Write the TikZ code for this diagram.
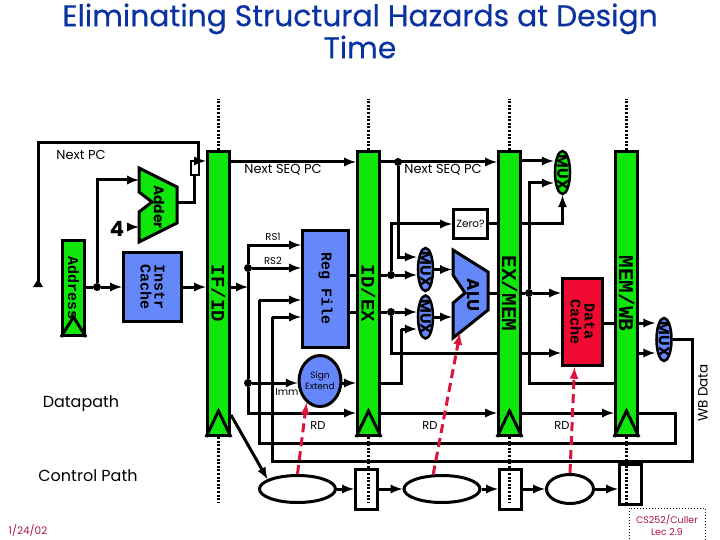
\documentclass[tikz,border=0pt]{standalone}
\usepackage{fontspec}
\usepackage{graphicx}
\usepackage{tikz}
\usetikzlibrary{shapes.geometric}
\setmainfont{Poppins}
\newfontfamily\slabfont{Liberation Mono}
\newfontfamily\titlefont[FakeBold=0.5]{Poppins}
\newcommand{\muxtext}{\rotatebox{-90}{\makebox[0pt]{MUX}}}
\definecolor{regGreen}{RGB}{15,230,10}
\definecolor{unitBlue}{RGB}{100,135,250}
\definecolor{cacheRed}{RGB}{240,10,50}
\definecolor{ctlRed}{RGB}{220,20,60}
\definecolor{titleBlue}{RGB}{10,50,160}
\definecolor{footRed}{RGB}{170,20,70}

\begin{document}
\begin{tikzpicture}[x=1pt,y=-1pt,
	every node/.style={font=\fontsize{13}{15}\selectfont, inner sep=0pt},
	pipereg/.style={draw, line width=3pt, fill=regGreen, minimum width=22pt, minimum height=284pt, font=\slabfont\bfseries\fontsize{20}{20}\selectfont},
	unit/.style={draw, line width=3pt, fill=unitBlue, align=center, font=\slabfont\bfseries\fontsize{15}{15}\selectfont},
	muxnode/.style={ellipse, draw, line width=2.5pt, fill=unitBlue, minimum width=15pt, minimum height=43pt, font=\bfseries\fontsize{15}{15}\selectfont},
	ctlnode/.style={ellipse, draw, line width=3pt, fill=white},
	latchnode/.style={draw, line width=3pt, fill=white, minimum width=22pt, minimum height=40pt},
	jdot/.style={circle, fill=black, minimum size=8pt},
	wire/.style={line width=3pt},
	arw/.style={line width=3pt, -latex},
	clk/.style={line width=3pt, dash pattern=on 2pt off 1.6pt},
	clkedge/.style={line width=3pt, line join=miter},
	ctl/.style={line width=3pt, ctlRed, dash pattern=on 9pt off 5pt, -latex},
	small/.style={font=\fontsize{10}{12}\selectfont},
	big/.style={font=\fontsize{16}{18}\selectfont}]
	\useasboundingbox (0,0) rectangle (720,540);

	\node[font=\titlefont\fontsize{29.8}{32}\selectfont, text=titleBlue, align=center] (title) at (360,31) {Eliminating Structural Hazards at Design\\Time};

	% pipeline registers
	\node[pipereg, font=\slabfont\bfseries\fontsize{19}{20}\selectfont] (ifid) at (218.5,293.5) {\rotatebox{-90}{IF/ID}};
	\node[pipereg, font=\slabfont\bfseries\fontsize{19}{20}\selectfont] (idex) at (368.5,293.5) {\rotatebox{-90}{ID/EX}};
	\node[pipereg, font=\slabfont\bfseries\fontsize{21}{20}\selectfont] (exmem) at (509.5,293.5) {\rotatebox{-90}{EX/MEM}};
	\node[pipereg, font=\slabfont\bfseries\fontsize{21}{20}\selectfont] (memwb) at (626.5,293.5) {\rotatebox{-90}{MEM/WB}};
	\node[pipereg, minimum height=95pt, font=\slabfont\bfseries\fontsize{15}{17}\selectfont] (addr) at (73.5,288) {\rotatebox{-90}{Address}};
	\draw[clkedge] (ifid.south west) -- ([yshift=26pt]ifid.south) -- (ifid.south east);
	\draw[clkedge] (idex.south west) -- ([yshift=26pt]idex.south) -- (idex.south east);
	\draw[clkedge] (exmem.south west) -- ([yshift=26pt]exmem.south) -- (exmem.south east);
	\draw[clkedge] (memwb.south west) -- ([yshift=26pt]memwb.south) -- (memwb.south east);
	\draw[clkedge] (addr.south west) -- ([yshift=20pt]addr.south) -- (addr.south east);

	% units
	\node[unit, minimum width=58pt, minimum height=69pt] (icache) at (152.5,287) {\rotatebox{-90}{\shortstack{Instr\\Cache}}};
	\node[unit, minimum width=46pt, minimum height=117pt] (regfile) at (325.5,289) {\rotatebox{-90}{Reg File}};
	\node[unit, fill=cacheRed, minimum width=40pt, minimum height=87pt] (dcache) at (582.5,322) {\rotatebox{-90}{\shortstack{Data\\Cache}}};
	\node[ellipse, draw, line width=3pt, fill=unitBlue, minimum width=33pt, minimum height=51pt, align=center, font=\fontsize{9}{11}\selectfont] (signext) at (320,381) {Sign\\Extend};
	\node[draw, line width=3pt, fill=white, minimum width=34pt, minimum height=28pt, font=\fontsize{10.5}{12}\selectfont] (zero) at (470.5,224) {Zero?};
	\node[muxnode] (muxa) at (425.5,269.5) {\muxtext};
	\node[muxnode] (muxb) at (425.5,317) {\muxtext};
	\node[muxnode] (muxwb) at (664,339.5) {\muxtext};
	\node[muxnode, fill=regGreen] (muxpc) at (562.5,172.5) {\muxtext};
	\draw[line width=3pt, fill=regGreen, line join=miter] (139,168) -- (177,187) -- (177,223) -- (139,242) -- (139,212) -- (152,202) -- (139,192) -- cycle;
	\node[font=\bfseries\fontsize{14}{14}\selectfont] (adder) at (159,207) {\rotatebox{-90}{Adder}};
	\draw[line width=3pt, fill=unitBlue, line join=miter] (453,250) -- (488,272) -- (488,310) -- (453,338) -- (453,303) -- (465,293) -- (453,275) -- cycle;
	\node[font=\bfseries\fontsize{17}{17}\selectfont] (alu) at (473,295) {\rotatebox{-90}{ALU}};
	\node[draw, line width=2pt, minimum width=8pt, minimum height=14pt] (pcbox) at (194.5,168) {};

	% junctions and wire levels
	\node[jdot] (pcdot) at (97,287) {};
	\node[jdot] (rsdot) at (248,268) {};
	\node[jdot] (seqdot) at (398,162) {};
	\node[jdot] (adot) at (391,275) {};
	\node[jdot] (bdot) at (391,312) {};
	\node[jdot] (immdot) at (248,383) {};
	\node[jdot] (aludot) at (529,293) {};
	\coordinate (seqy) at (0,162);
	\coordinate (rdy) at (0,413);
	\coordinate (memy) at (0,353);
	\coordinate (cacheout) at (0,323);

	% next pc
	\node[font=\bfseries\fontsize{21}{21}\selectfont] (four) at (117,229) {4};
	\coordinate (pcend) at (38,285);
	\draw[wire, line join=miter] (pcend) -- (38,143) -- (198,143) -- (198,161);
	\fill (33,287) -- (38,279) -- (43,287) -- cycle;
	\draw[arw] (198,161) -- (ifid.west |- 0,161);
	\draw[arw] (pcdot) |- (139,180);
	\draw[arw] (131,227) -- (139,227);
	\draw[wire, line join=miter] (177,203) -| (pcbox.south);
	\draw[wire] (addr.east |- pcdot) -- (pcdot);
	\draw[arw] (pcdot) -- (icache.west |- pcdot);
	\draw[arw] (icache.east |- pcdot) -- (ifid.west |- pcdot);
	\draw[arw] (ifid.east |- pcdot) -- (rsdot |- pcdot);

	% decode
	\draw[arw] (ifid.east |- seqy) -- (idex.west |- seqy);
	\draw[arw] (idex.east |- seqy) -- (exmem.west |- seqy);
	\draw[arw] (rsdot) |- (regfile.west |- 0,245);
	\draw[arw] (rsdot) -- (regfile.west |- rsdot);
	\draw[wire] (rsdot) -- (immdot);
	\draw[arw] (immdot) -- (signext.west |- immdot);
	\draw[arw] (signext.east |- immdot) -- (idex.west |- immdot);
	\draw[arw] (immdot) |- (idex.west |- rdy);
	\draw[wire] (regfile.east |- adot) -- (idex.west |- adot);
	\draw[wire] (regfile.east |- bdot) -- (idex.west |- bdot);

	% execute
	\draw[arw] (seqdot) |- (muxa.west |- 0,257);
	\draw[wire] (idex.east |- adot) -- (adot);
	\draw[arw] (adot) -- (muxa.west |- adot);
	\draw[arw] (adot) |- (zero.west);
	\draw[wire] (idex.east |- bdot) -- (bdot);
	\draw[arw] (bdot) -- (muxb.west |- bdot);
	\draw[wire, line join=miter] (idex.east |- immdot) -- (401,383) -- (401,329);
	\draw[arw] (401,329) -- (muxb.west |- 0,329);
	\draw[arw] (muxa.east) -- (452,269.5);
	\draw[arw] (muxb.east) -- (452,317);
	\draw[wire] (488,293) -- (exmem.west |- 0,293);
	\draw[wire] (zero.east) -- (exmem.west |- zero.east);
	\draw[arw] (exmem.east |- zero.east) -| (muxpc.south);
	\draw[wire] (bdot) |- (exmem.west |- memy);
	\draw[arw] (exmem.east |- memy) -- (dcache.west |- memy);
	\draw[arw] (idex.east |- rdy) -- (exmem.west |- rdy);

	% memory and write back
	\draw[arw] (exmem.east |- 0,161) -- (muxpc.west |- 0,161);
	\draw[arw] (aludot) |- (muxpc.west |- 0,183);
	\draw[wire] (exmem.east |- aludot) -- (aludot);
	\draw[arw] (aludot) -- (dcache.west |- aludot);
	\draw[wire] (aludot) |- (memwb.west |- 0,383);
	\draw[wire] (dcache.east |- cacheout) -- (memwb.west |- cacheout);
	\draw[arw] (memwb.east |- cacheout) -- (muxwb.west |- cacheout);
	\draw[arw] (memwb.east |- memy) -- (muxwb.west |- memy);
	\draw[arw] (exmem.east |- rdy) -- (memwb.west |- rdy);
	\draw[wire, line join=miter] (memwb.east |- rdy) -- (675,413) -- (675,443) -- (259,443) -- (259,300);
	\draw[arw] (259,300) -- (regfile.west |- 0,300);
	\draw[wire, line join=miter] (muxwb.east) -- (692,339.5) -- (692,461) -- (272,461) -- (272,317);
	\draw[arw] (272,317) -- (regfile.west |- 0,317);

	% control path
	\node[ctlnode, minimum width=76pt, minimum height=27pt] (ctrla) at (297.5,489) {};
	\node[ctlnode, minimum width=76pt, minimum height=27pt] (ctrlb) at (442,489) {};
	\node[ctlnode, minimum width=47pt, minimum height=29pt] (ctrlc) at (570,489) {};
	\node[latchnode] (latcha) at (366.5,489.5) {};
	\node[latchnode] (latchb) at (510.5,489.5) {};
	\node[latchnode] (latchc) at (630.5,484) {};
	\draw[arw] (ifid.east |- 0,415) -- (ctrla.162);
	\draw[arw] (ctrla.east) -- (latcha.west |- ctrla.east);
	\draw[arw] (latcha.east |- ctrlb.west) -- (ctrlb.west);
	\draw[arw] (ctrlb.east) -- (latchb.west |- ctrlb.east);
	\draw[arw] (latchb.east |- ctrlc.west) -- (ctrlc.west);
	\draw[arw] (ctrlc.east) -- (latchc.west |- ctrlc.east);
	\draw[ctl] (ctrla.north) -- (signext.238);
	\draw[ctl] (ctrlb.121) -- (460,333);
	\draw[ctl] (ctrlc.north) -- ([xshift=-8pt]dcache.south);

	% clock lines
	\coordinate (clktop) at (0,99);
	\coordinate (clkbot) at (0,503);
	\draw[clk] (ifid.north) -- (ifid.north |- clktop);
	\draw[clk] (idex.north) -- (idex.north |- clktop);
	\draw[clk] (exmem.north) -- (exmem.north |- clktop);
	\draw[clk] (memwb.north) -- (memwb.north |- clktop);
	\draw[clk] (ifid.south) -- (ifid.south |- clkbot);
	\draw[clk] (idex.south) -- (idex.south |- clkbot);
	\draw[clk] (exmem.south) -- (exmem.south |- clkbot);
	\draw[clk] (memwb.south) -- (memwb.south |- clkbot);

	% labels
	\node (lnextpc) at (81,155) {Next PC};
	\node (lseqa) at (283,170) {Next SEQ PC};
	\node (lseqb) at (443,170) {Next SEQ PC};
	\node[small] (lrsa) at (273,237) {RS1};
	\node[small] (lrsb) at (273,261) {RS2};
	\node[small] (limm) at (287,392) {Imm};
	\node[font=\fontsize{11.5}{13}\selectfont] (lrda) at (318,425) {RD};
	\node[font=\fontsize{11.5}{13}\selectfont] (lrdb) at (430,425) {RD};
	\node[font=\fontsize{11.5}{13}\selectfont] (lrdc) at (562,425) {RD};
	\node[big] (ldata) at (81,404) {Datapath};
	\node[big] (lctrl) at (88,476) {Control Path};
	\node[font=\fontsize{13.5}{15}\selectfont] (lwb) at (703,393) {\rotatebox{90}{WB Data}};
	\node[text=footRed, font=\fontsize{10.5}{12}\selectfont] (ldate) at (28,530) {1/24/02};
	\node[draw, dotted, line width=1pt, text=footRed, align=center, minimum width=76pt, minimum height=34pt, font=\fontsize{9.5}{12}\selectfont] (foot) at (667,525) {CS252/Culler\\Lec 2.9};
\end{tikzpicture}
\end{document}
